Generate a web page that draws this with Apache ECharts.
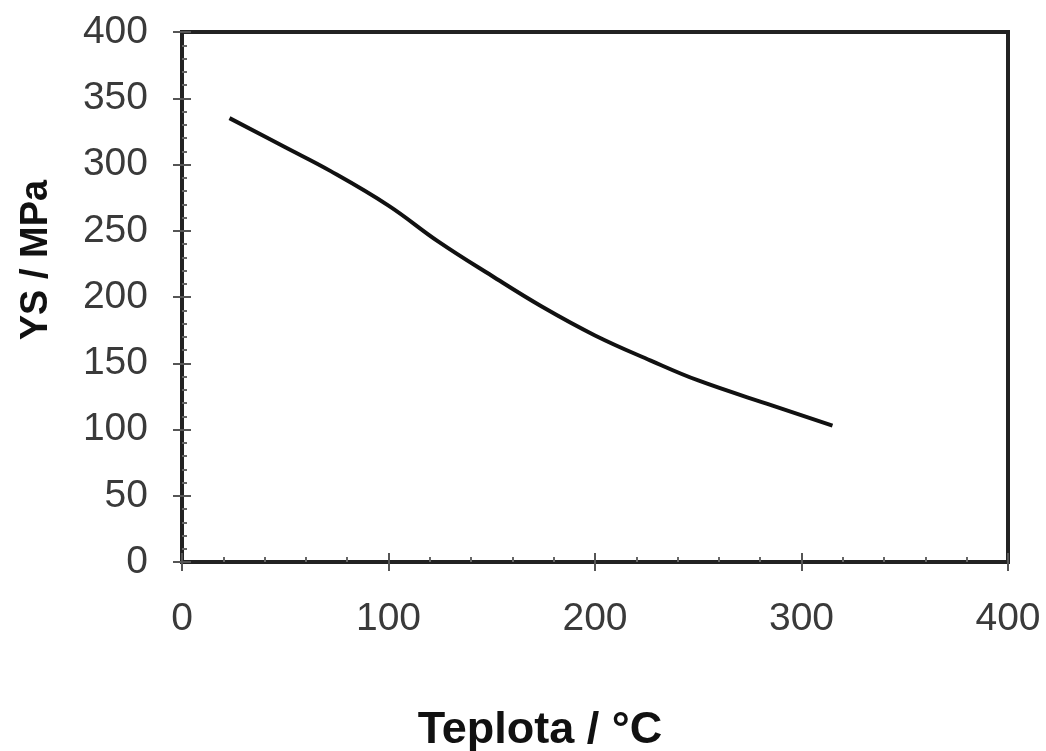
<!DOCTYPE html>
<html>
<head>
<meta charset="utf-8">
<title>YS vs Teplota</title>
<script src="https://cdn.jsdelivr.net/npm/echarts@6/dist/echarts.min.js"></script>
<style>
  html, body { margin: 0; padding: 0; background: #fff; }
  #chart { width: 1046px; height: 751px; }
</style>
</head>
<body>
<div id="chart"></div>
<script>
// temperature (°C) and yield strength (MPa)
const teplota = [23, 50, 72, 100, 124, 150, 174, 200, 227, 250, 286, 315]
const ys = [335, 313, 295, 269, 242, 216, 193, 171, 152, 137, 118, 103]

const xTicks = [0, 100, 200, 300, 400]
const yTicks = [0, 50, 100, 150, 200, 250, 300, 350, 400]

const chart = echarts.init(document.getElementById('chart'))

const labelFont = {
  fontFamily: 'Liberation Sans, Arial, sans-serif',
  fontSize: 39,
  color: '#3a3a3a',
}

const xBase = {
  type: 'value',
  min: xTicks[0],
  max: xTicks[xTicks.length - 1],
  interval: 100,
  position: 'bottom',
  splitLine: { show: false },
  axisLine: { lineStyle: { color: '#222', width: 4 } },
}

const yBase = {
  type: 'value',
  min: yTicks[0],
  max: yTicks[yTicks.length - 1],
  interval: 50,
  position: 'left',
  splitLine: { show: false },
  axisLine: { lineStyle: { color: '#222', width: 4 } },
}

chart.setOption({
  animation: false,
  grid: {
    left: 182,
    right: 38,
    top: 32,
    bottom: 189,
    outerBoundsMode: 'none',
    containLabel: false,
    show: true,
    borderColor: '#222',
    borderWidth: 4,
  },
  xAxis: [
    {
      ...xBase,
      name: 'Teplota / °C',
      nameLocation: 'middle',
      nameGap: 146,
      nameTextStyle: {
        fontFamily: 'Liberation Sans, Arial, sans-serif',
        fontSize: 45,
        fontWeight: 'bold',
        color: '#111',
        padding: [0, 110, 0, 0],
      },
      axisTick: { show: true, inside: false, length: 9, lineStyle: { color: '#555', width: 2 } },
      axisLabel: { ...labelFont, margin: 38, formatter: (v) => xTicks.includes(v) ? String(v) : '' },
    },
    {
      ...xBase,
      axisTick: { show: true, inside: true, length: 9, lineStyle: { color: '#555', width: 2 } },
      minorTick: { show: true, splitNumber: 5, length: 5, lineStyle: { color: '#666', width: 2 } },
      axisLabel: { show: false },
    },
  ],
  yAxis: [
    {
      ...yBase,
      name: 'YS / MPa',
      nameLocation: 'middle',
      nameGap: 126,
      nameTextStyle: {
        fontFamily: 'Liberation Sans, Arial, sans-serif',
        fontSize: 38,
        fontWeight: 'bold',
        color: '#111',
        padding: [0, 0, 0, 74],
      },
      axisTick: { show: true, inside: false, length: 9, lineStyle: { color: '#555', width: 2 } },
      axisLabel: { ...labelFont, margin: 34, formatter: (v) => yTicks.includes(v) ? String(v) : '' },
    },
    {
      ...yBase,
      axisTick: { show: true, inside: true, length: 9, lineStyle: { color: '#555', width: 2 } },
      minorTick: { show: true, splitNumber: 5, length: 5, lineStyle: { color: '#666', width: 2 } },
      axisLabel: { show: false },
    },
  ],
  series: [
    {
      name: 'YS',
      type: 'line',
      xAxisIndex: 0,
      yAxisIndex: 0,
      data: teplota.map((t, i) => [t, ys[i]]),
      smooth: 0.4,
      showSymbol: false,
      lineStyle: { color: '#111', width: 4 },
    },
  ],
})
</script>
</body>
</html>
